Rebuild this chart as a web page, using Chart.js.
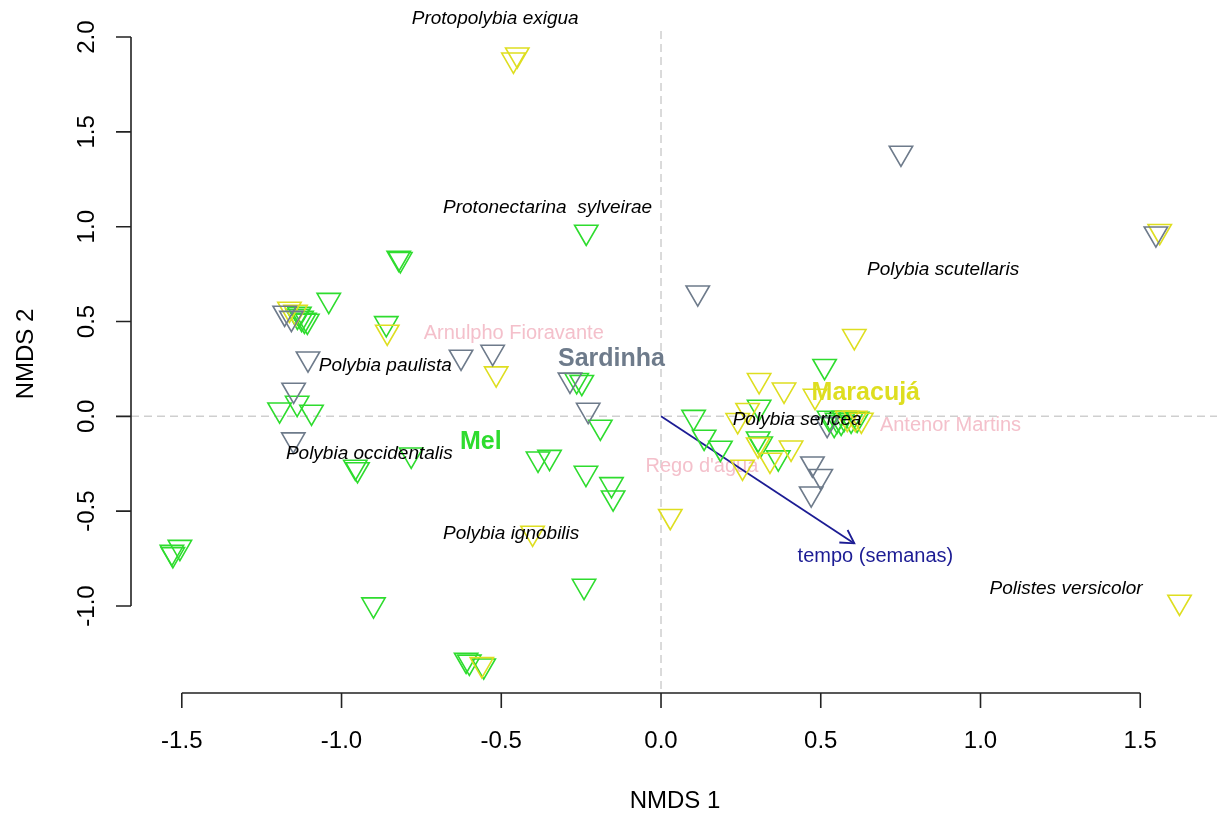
<!DOCTYPE html>
<html>
<head>
<meta charset="utf-8">
<title>NMDS</title>
<script src="https://cdn.jsdelivr.net/npm/chart.js@4.4.0/dist/chart.umd.min.js"></script>
<style>
  html, body { margin: 0; padding: 0; background: #ffffff; overflow: hidden; }
  #wrap { width: 1217px; height: 814px; position: relative; }
  #nmdsChart { display: block; }
</style>
</head>
<body>
<div id="wrap"><canvas id="nmdsChart" width="1217" height="814"></canvas></div>
<script>
// NMDS ordination - scores

// Mel (green)
const MEL_X = [-0.234, -0.821, -0.816, -1.040, -1.138, -1.125, -1.116, -1.107, -1.132, -0.860,
  -1.194, -1.139, -1.094, -0.957, -0.950, -0.782, -0.264, -0.248, -0.190, -0.385, -0.349,
  -0.235, -0.155, -0.150, -0.241, -0.610, -0.600, -0.555, -0.900, -1.531, -1.506, -1.528,
  0.512, 0.526, 0.551, 0.573, 0.595, 0.564, 0.542, 0.614, 0.307, 0.102, 0.135, 0.186,
  0.304, 0.367, 0.312];
const MEL_Y = [0.972, 0.835, 0.828, 0.613, 0.529, 0.518, 0.508, 0.503, 0.540, 0.490,
  0.035, 0.070, 0.023, -0.267, -0.280, -0.203, 0.190, 0.180, -0.056, -0.224, -0.215,
  -0.299, -0.359, -0.429, -0.895, -1.285, -1.295, -1.315, -0.993, -0.716, -0.690, -0.728,
  0.264, -0.009, -0.019, -0.009, -0.019, -0.030, -0.041, -0.014, 0.049, -0.004, -0.109, -0.167,
  -0.118, -0.218, -0.145];

// Maracujá (yellow)
const MARACUJA_X = [-0.462, -0.450, -1.163, -1.144, -0.857, -0.516, -0.402, 0.029, -0.561,
  1.623, 1.561, 0.605, 0.482, 0.307, 0.385, 0.271, 0.240, 0.304, 0.407, 0.341, 0.255,
  0.583, 0.608, 0.627];
const MARACUJA_Y = [1.880, 1.907, 0.566, 0.550, 0.445, 0.225, -0.615, -0.527, -1.308,
  -0.979, 0.976, 0.422, 0.107, 0.190, 0.140, 0.032, -0.021, -0.150, -0.166, -0.230, -0.267,
  -0.009, -0.009, -0.019];

// Sardinha (grey)
const SARDINHA_X = [0.751, 1.549, 0.115, -1.178, -1.157, -1.105, -0.626, -0.527, -1.150,
  -1.151, -0.285, -0.228, 0.474, 0.500, 0.470, 0.520];
const SARDINHA_Y = [1.389, 0.963, 0.652, 0.545, 0.518, 0.304, 0.313, 0.339, 0.139,
  -0.123, 0.192, 0.033, -0.250, -0.316, -0.408, -0.041];

// species scores (label centres)
const SPECIES_NAMES = ['Protopolybia exigua', 'Protonectarina  sylveirae', 'Polybia scutellaris',
  'Polybia paulista', 'Polybia occidentalis', 'Polybia ignobilis', 'Polybia sericea', 'Polistes versicolor'];
const SPECIES_X = [-0.519, -0.355, 0.883, -0.863, -0.913, -0.469, 0.426, 1.268];
const SPECIES_Y = [2.095, 1.099, 0.775, 0.265, -0.195, -0.621, -0.020, -0.907];

// group centroids
const SITE_NAMES = ['Sardinha', 'Mel', 'Maracujá'];
const SITE_X = [-0.155, -0.564, 0.641];
const SITE_Y = [0.303, -0.134, 0.121];

// sampling places
const PLACE_NAMES = ['Arnulpho Fioravante', 'Antenor Martins', "Rego d'água"];
const PLACE_X = [-0.461, 0.906, 0.128];
const PLACE_Y = [0.438, -0.050, -0.266];

// fitted vector
const ARROW_X = [0, 0.605];
const ARROW_Y = [0, -0.670];
const ARROW_LABEL = 'tempo (semanas)';
const ARROW_LABEL_X = 0.671;
const ARROW_LABEL_Y = -0.737;

// axes
const X_RANGE = [-1.659, 1.693];
const Y_RANGE = [-1.459, 2.032];
const X_TICKS = [-1.5, -1.0, -0.5, 0.0, 0.5, 1.0, 1.5];
const X_TICK_LABELS = ['-1.5', '-1.0', '-0.5', '0.0', '0.5', '1.0', '1.5'];
const Y_TICKS = [-1.0, -0.5, 0.0, 0.5, 1.0, 1.5, 2.0];
const Y_TICK_LABELS = ['-1.0', '-0.5', '0.0', '0.5', '1.0', '1.5', '2.0'];
const X_TITLE = 'NMDS 1';
const Y_TITLE = 'NMDS 2';

const COLORS = {
  mel: '#2edc2e',
  maracuja: '#dede20',
  sardinha: '#6e7b8b',
  place: '#f4c0cb',
  arrow: '#1c1c94',
  zero: '#cfcfcf',
  axis: '#222222'
};
const FONT = '"Liberation Sans", Arial, Helvetica, sans-serif';

const toPoints = (xs, ys) => xs.map((x, i) => ({ x, y: ys[i] }));

function groupDataset(label, xs, ys, color) {
  return {
    label,
    data: toPoints(xs, ys),
    pointStyle: 'triangle',
    rotation: 180,              // pch 6: triangle point down
    radius: 13.5,
    borderWidth: 1.6,
    borderColor: color,
    backgroundColor: 'rgba(0,0,0,0)',
    clip: false
  };
}

function text(ctx, str, x, y, font, color) {
  ctx.font = font;
  ctx.fillStyle = color;
  ctx.textAlign = 'center';
  ctx.textBaseline = 'middle';
  ctx.fillText(str, x, y);
}

// dashed zero lines + place names under the points
const underlayPlugin = {
  id: 'underlay',
  beforeDatasetsDraw(chart) {
    const { ctx, chartArea: a, scales: { x, y } } = chart;
    ctx.save();
    ctx.strokeStyle = COLORS.zero;
    ctx.lineWidth = 1.5;
    ctx.setLineDash([8, 5]);
    const x0 = x.getPixelForValue(0), y0 = y.getPixelForValue(0);
    ctx.beginPath();
    ctx.moveTo(x0, a.top); ctx.lineTo(x0, a.bottom);
    ctx.moveTo(a.left, y0); ctx.lineTo(chart.width, y0);
    ctx.stroke();
    ctx.setLineDash([]);
    PLACE_NAMES.forEach((n, i) => {
      text(ctx, n, x.getPixelForValue(PLACE_X[i]), y.getPixelForValue(PLACE_Y[i]), '20px ' + FONT, COLORS.place);
    });
    ctx.restore();
  }
};

// arrow head, species / site labels, R style axes
const overlayPlugin = {
  id: 'overlay',
  afterDatasetsDraw(chart) {
    const { ctx, chartArea: a, scales: { x, y } } = chart;
    ctx.save();

    // arrow head
    const px0 = x.getPixelForValue(ARROW_X[0]), py0 = y.getPixelForValue(ARROW_Y[0]);
    const px1 = x.getPixelForValue(ARROW_X[1]), py1 = y.getPixelForValue(ARROW_Y[1]);
    const ang = Math.atan2(py1 - py0, px1 - px0);
    const len = 15;
    ctx.strokeStyle = COLORS.arrow;
    ctx.lineWidth = 1.8;
    ctx.beginPath();
    ctx.moveTo(px1 - len * Math.cos(ang - Math.PI / 6), py1 - len * Math.sin(ang - Math.PI / 6));
    ctx.lineTo(px1, py1);
    ctx.lineTo(px1 - len * Math.cos(ang + Math.PI / 6), py1 - len * Math.sin(ang + Math.PI / 6));
    ctx.stroke();
    text(ctx, ARROW_LABEL, x.getPixelForValue(ARROW_LABEL_X), y.getPixelForValue(ARROW_LABEL_Y), '20px ' + FONT, COLORS.arrow);

    SPECIES_NAMES.forEach((n, i) => {
      text(ctx, n, x.getPixelForValue(SPECIES_X[i]), y.getPixelForValue(SPECIES_Y[i]), 'italic 19px ' + FONT, '#000000');
    });
    const siteColors = [COLORS.sardinha, COLORS.mel, COLORS.maracuja];
    SITE_NAMES.forEach((n, i) => {
      text(ctx, n, x.getPixelForValue(SITE_X[i]), y.getPixelForValue(SITE_Y[i]), 'bold 25px ' + FONT, siteColors[i]);
    });

    // axes
    ctx.strokeStyle = COLORS.axis;
    ctx.lineWidth = 1.6;
    const tick = 15;
    ctx.beginPath();
    ctx.moveTo(x.getPixelForValue(X_TICKS[0]), a.bottom);
    ctx.lineTo(x.getPixelForValue(X_TICKS[X_TICKS.length - 1]), a.bottom);
    X_TICKS.forEach(v => {
      const p = x.getPixelForValue(v);
      ctx.moveTo(p, a.bottom); ctx.lineTo(p, a.bottom + tick);
    });
    ctx.moveTo(a.left, y.getPixelForValue(Y_TICKS[0]));
    ctx.lineTo(a.left, y.getPixelForValue(Y_TICKS[Y_TICKS.length - 1]));
    Y_TICKS.forEach(v => {
      const p = y.getPixelForValue(v);
      ctx.moveTo(a.left, p); ctx.lineTo(a.left - tick, p);
    });
    ctx.stroke();

    const axisFont = '24px ' + FONT;
    X_TICKS.forEach((v, i) => {
      text(ctx, X_TICK_LABELS[i], x.getPixelForValue(v), a.bottom + 48, axisFont, '#000000');
    });
    Y_TICKS.forEach((v, i) => {
      ctx.save();
      ctx.translate(a.left - 44, y.getPixelForValue(v));
      ctx.rotate(-Math.PI / 2);
      text(ctx, Y_TICK_LABELS[i], 0, 0, axisFont, '#000000');
      ctx.restore();
    });
    text(ctx, X_TITLE, (a.left + chart.width) / 2 + 1, a.bottom + 108, axisFont, '#000000');
    ctx.save();
    ctx.translate(26, (a.top + a.bottom) / 2 - 8);
    ctx.rotate(-Math.PI / 2);
    text(ctx, Y_TITLE, 0, 0, axisFont, '#000000');
    ctx.restore();

    ctx.restore();
  }
};

let nmdsChart;

function initChart() {
  const ctx = document.getElementById('nmdsChart').getContext('2d');
  nmdsChart = new Chart(ctx, {
    type: 'scatter',
    data: {
      datasets: [
        groupDataset('Sardinha', SARDINHA_X, SARDINHA_Y, COLORS.sardinha),
        groupDataset('Maracujá', MARACUJA_X, MARACUJA_Y, COLORS.maracuja),
        groupDataset('Mel', MEL_X, MEL_Y, COLORS.mel),
        {
          label: ARROW_LABEL,
          type: 'line',
          data: toPoints(ARROW_X, ARROW_Y),
          borderColor: COLORS.arrow,
          borderWidth: 1.8,
          pointRadius: 0,
          fill: false,
          clip: false
        }
      ]
    },
    options: {
      responsive: false,
      animation: false,
      events: [],
      layout: { padding: { left: 131, top: 31, right: 0, bottom: 121 } },
      plugins: {
        legend: { display: false },
        tooltip: { enabled: false }
      },
      scales: {
        x: { type: 'linear', min: X_RANGE[0], max: X_RANGE[1], display: false },
        y: { type: 'linear', min: Y_RANGE[0], max: Y_RANGE[1], display: false }
      }
    },
    plugins: [underlayPlugin, overlayPlugin]
  });
}

initChart();
</script>
</body>
</html>
